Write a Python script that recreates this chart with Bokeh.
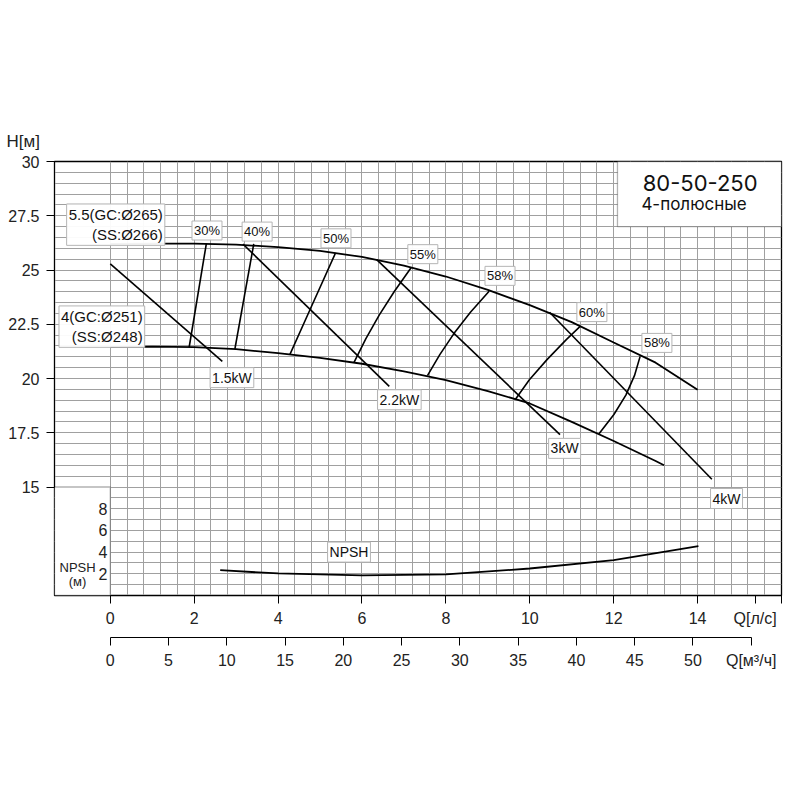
import numpy as np
from bokeh.plotting import figure
from bokeh.models import Range1d, LinearAxis, FixedTicker, Label, BoxAnnotation, Title
from bokeh.embed import file_html
from bokeh.resources import INLINE

# ---------------- data (Q in l/s, H in m) ----------------
q_d265 = [0, 1, 2, 3, 4, 5, 6, 7, 8, 9, 10, 11, 12, 13, 14]
h_d265 = [26.2, 26.22, 26.22, 26.17, 26.05, 25.88, 25.6, 25.2, 24.7, 24.08, 23.38, 22.6, 21.66, 20.73, 19.48]

q_d251 = [0, 1, 2, 3, 4, 5, 6, 7, 8, 9, 10, 11, 12, 13, 13.2]
h_d251 = [21.45, 21.47, 21.45, 21.35, 21.17, 20.95, 20.68, 20.33, 19.93, 19.42, 18.85, 18.0, 17.12, 16.2, 16.0]

# power lines
p15_q, p15_h = [0, 2.67], [25.28, 20.79]
p22_q, p22_h = [3.16, 6.65], [26.2, 19.64]
p30_q, p30_h = [6.35, 10.72], [25.48, 17.41]
p40_q, p40_h = [10.47, 14.34], [23.05, 15.36]
power_names = ["1.5kW", "2.2kW", "3kW", "4kW"]

# efficiency curves
e30_q, e30_h = [1.88, 2.29], [21.44, 26.22]
e40_q, e40_h = [2.97, 3.42], [21.36, 26.2]
e50_q, e50_h = [4.28, 4.76, 5.37], [21.1, 23.17, 25.79]
e55_q, e55_h = [5.81, 6.09, 6.41, 6.77, 7.17], [20.74, 21.83, 22.92, 24.01, 25.1]
e58a_q, e58a_h = [7.56, 7.855, 8.195, 8.585, 9.03], [20.13, 21.10, 22.08, 23.05, 24.02]
e60_q, e60_h = [9.65, 9.99, 10.41, 10.87, 11.2], [19.02, 19.94, 20.87, 21.79, 22.4]
e58b_q, e58b_h = [11.65, 12.005, 12.29, 12.495, 12.63], [17.45, 18.34, 19.235, 20.13, 21.02]
eff_names = ["30%", "40%", "50%", "55%", "58%", "60%", "58%"]

# NPSH
npsh_q = [2.62, 4, 6, 8, 10, 12, 14.02]
npsh_m = [2.33, 2.03, 1.85, 1.94, 2.49, 3.26, 4.55]

# ticks
q_ticks = [0, 2, 4, 6, 8, 10, 12, 14]
m3h_ticks = [0, 5, 10, 15, 20, 25, 30, 35, 40, 45, 50]
h_ticks = [15, 17.5, 20, 22.5, 25, 27.5, 30]
h_tick_labels = ["15", "17.5", "20", "22.5", "25", "27.5", "30"]
npsh_ticks = [2, 4, 6, 8]
Q_LABEL_POS = 15.37

FONT = "Liberation Sans"

p = figure(frame_width=727, frame_height=434, output_backend="svg", toolbar_location=None,
           x_range=Range1d(-1.33, 16), y_range=Range1d(10, 30),
           min_border_left=54, min_border_top=161, min_border_right=10, min_border_bottom=90)
p.background_fill_color = "white"
p.border_fill_color = "white"
p.outline_line_color = "black"
p.outline_line_width = 1.3

p.extra_y_ranges = {"npsh": Range1d(0, 40)}
p.extra_x_ranges = {"m3h": Range1d(-1.33 * 3.6, 16 * 3.6)}

# grid
p.xgrid.ticker = FixedTicker(ticks=[round(0.4 * i, 2) for i in range(41)])
p.xgrid.bounds = (0, 16)
p.ygrid.ticker = FixedTicker(ticks=[10 + 0.5 * i for i in range(41)])
for g in (p.xgrid[0], p.ygrid[0]):
    g.grid_line_color = "#a0a0a0"
    g.grid_line_width = 1

# left H axis
ya = p.yaxis[0]
ya.ticker = FixedTicker(ticks=h_ticks)
ya.major_label_overrides = {t: s for t, s in zip(h_ticks, h_tick_labels)}
ya.bounds = (15, 30)
ya.axis_line_color = "black"
ya.major_tick_out = 8
ya.major_tick_in = 0
ya.minor_tick_out = 0
ya.minor_tick_in = 0
ya.major_label_standoff = 7
ya.major_label_text_font = FONT
ya.major_label_text_font_size = "16px"
ya.major_label_text_color = "#222222"

# bottom Q l/s axis
xa = p.xaxis[0]
xa.ticker = FixedTicker(ticks=q_ticks + [Q_LABEL_POS, 16])
xa.major_label_overrides = {Q_LABEL_POS: "Q[л/с]", 16: ""}
xa.bounds = (0, 16)
xa.axis_line_color = "black"
xa.major_tick_out = 8
xa.major_tick_in = 0
xa.minor_tick_out = 0
xa.minor_tick_in = 0
xa.major_label_standoff = 6
xa.major_label_text_font = FONT
xa.major_label_text_font_size = "16px"
xa.major_label_text_color = "#222222"

# spacer between the two bottom axes
p.add_layout(Title(text=" ", text_font_size="6px", standoff=0), "below")

# second bottom axis m3/h
ax_m = LinearAxis(x_range_name="m3h", ticker=FixedTicker(ticks=m3h_ticks + [55]),
                  bounds=(0, 55), major_label_overrides={55: "Q[м³/ч]"})
ax_m.axis_line_color = "black"
ax_m.major_tick_out = 8
ax_m.major_tick_in = 0
ax_m.minor_tick_out = 0
ax_m.minor_tick_in = 0
ax_m.major_label_standoff = 6
ax_m.major_label_text_font = FONT
ax_m.major_label_text_font_size = "16px"
ax_m.major_label_text_color = "#222222"
p.add_layout(ax_m, "below")

# H axis title above the frame
p.add_layout(Title(text="H[м]", align="left", offset=-48, standoff=22, text_font=FONT,
                   text_font_size="17px", text_font_style="normal", text_color="#222222"), "above")

# white NPSH corner box and title box
p.add_layout(BoxAnnotation(left=-1.33, right=0, bottom=10, top=15, fill_color="white", fill_alpha=1,
                           line_color="black", line_width=1.3, level="underlay"))
p.add_layout(BoxAnnotation(left=12.09, right=16, bottom=27.0, top=30, fill_color="white", fill_alpha=1,
                           line_color="black", line_width=1.3, level="underlay"))

LW = 1.8
# impeller curves
p.line(q_d265, h_d265, line_color="black", line_width=LW)
p.line(q_d251, h_d251, line_color="black", line_width=LW)
# power lines
for qq, hh in [(p15_q, p15_h), (p22_q, p22_h), (p30_q, p30_h), (p40_q, p40_h)]:
    p.line(qq, hh, line_color="black", line_width=1.6)
# efficiency
for qq, hh in [(e30_q, e30_h), (e40_q, e40_h), (e50_q, e50_h), (e55_q, e55_h),
               (e58a_q, e58a_h), (e60_q, e60_h), (e58b_q, e58b_h)]:
    p.line(qq, hh, line_color="black", line_width=1.6)
# NPSH
p.line(npsh_q, npsh_m, y_range_name="npsh", line_color="black", line_width=LW)


def boxed(text, x, y, size="13px", align="center", y_range_name="default"):
    lab = Label(x=x, y=y, text=text, text_font=FONT, text_font_size=size, text_align=align,
                text_baseline="middle", text_color="#111111",
                background_fill_color="white", background_fill_alpha=0.95,
                border_line_color="#b5b5b5", border_line_width=1, padding=2,
                y_range_name=y_range_name)
    p.add_layout(lab)


# efficiency labels
eff_pos = [(2.305, 26.82), (3.50, 26.77), (5.38, 26.46), (7.45, 25.73), (9.29, 24.73), (11.48, 23.06), (13.03, 21.64)]
for name, (x, y) in zip(eff_names, eff_pos):
    boxed(name, x, y)
# power labels
pow_pos = [(2.90, 20.04), (6.89, 19.02), (10.83, 16.78), (14.69, 14.47)]
for name, (x, y) in zip(power_names, pow_pos):
    boxed(name, x, y, size="14px")
# NPSH label
boxed("NPSH", 5.69, 12.0, size="14px")

# diameter labels
boxed("5.5(GC:Ø265)\n(SS:Ø266)", 1.3, 27.09, size="15px", align="right")
boxed("4(GC:Ø251)\n(SS:Ø248)", 0.82, 22.39, size="15px", align="right")

# NPSH axis texts
for t in npsh_ticks:
    p.add_layout(Label(x=-0.07, y=t, y_range_name="npsh", text=str(t), text_font=FONT,
                       text_font_size="16px", text_align="right", text_baseline="middle",
                       text_color="#222222"))
p.add_layout(Label(x=-0.78, y=11.30, text="NPSH", text_font=FONT, text_font_size="13px",
                   text_align="center", text_baseline="middle", text_color="#222222"))
p.add_layout(Label(x=-0.78, y=10.63, text="(м)", text_font=FONT, text_font_size="13px",
                   text_align="center", text_baseline="middle", text_color="#222222"))

# title
p.add_layout(Label(x=12.69, y=29.03, text="80-50-250", text_font="Inter", text_font_size="22px",
                   text_align="left", text_baseline="middle", text_color="#111111"))
p.add_layout(Label(x=12.66, y=28.02, text="4-полюсные", text_font="Inter", text_font_size="17px",
                   text_align="left", text_baseline="middle", text_color="#111111"))

open("out.html", "w").write(file_html(p, INLINE))
